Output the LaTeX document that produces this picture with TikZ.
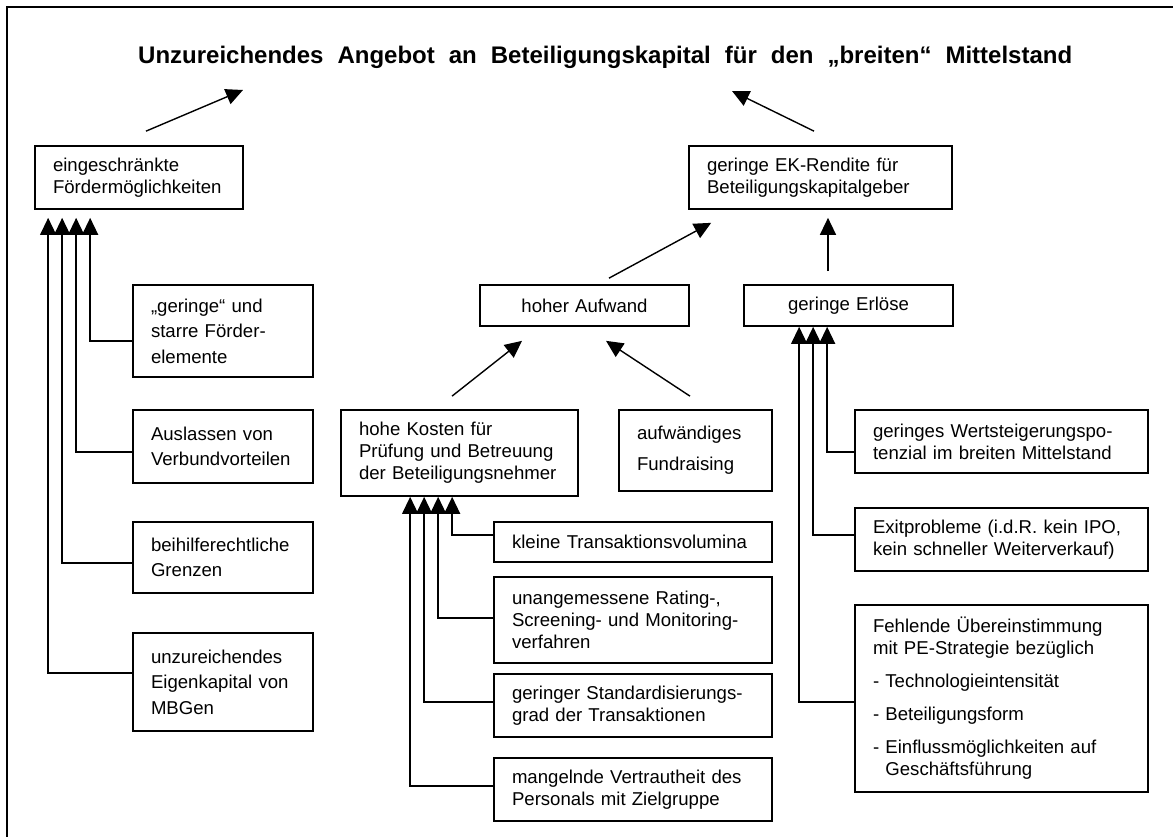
\documentclass[tikz,border=0pt]{standalone}
\usepackage{fontspec}
\setmainfont{Liberation Sans}
\usetikzlibrary{arrows.meta}
\newcommand{\boxfont}{\fontsize{18.6}{22}\selectfont\hyphenpenalty=10000\exhyphenpenalty=10000}
\newcommand{\leftfont}{\fontsize{18.6}{25.5}\selectfont\hyphenpenalty=10000\exhyphenpenalty=10000}
\begin{document}
\begin{tikzpicture}[x=1pt,y=-1pt,
  box/.style={draw, line width=1.7pt, inner xsep=18pt, inner ysep=0pt, align=left, font=\boxfont},
  lbox/.style={box, font=\leftfont, minimum width=180pt, text width=144pt},
  cbox/.style={box, align=center},
  arr/.style={line width=1.4pt, -{Triangle[length=17pt,width=16pt]}},
  frame/.style={line width=1.8pt}]
\useasboundingbox (0,0) rectangle (1173,837);
\fill[white] (0,0) rectangle (1173,837);
\draw[frame] (7,7) rectangle (1182,850);

% title
\node[anchor=base west, inner sep=0pt, font=\fontsize{24}{28}\bfseries\selectfont] (title) at (138,64)
  {\makebox[934pt][s]{Unzureichendes Angebot an Beteiligungskapital für den „breiten“ Mittelstand}};
\coordinate (t1) at (243,90);
\coordinate (t2) at (732,91);

% upper level
\node[box, minimum width=208pt, minimum height=63pt, text width=172pt] (fm) at (139,177.5)
  {eingeschränkte\\Fördermöglichkeiten};
\node[box, minimum width=263pt, minimum height=63pt, text width=227pt] (ek) at (820.5,177.5)
  {geringe EK-Rendite für\\Beteiligungskapitalgeber};

% middle level
\node[cbox, minimum width=209pt, minimum height=41pt, text width=173pt] (ha) at (584.5,305.5) {hoher Aufwand};
\node[cbox, minimum width=209pt, minimum height=41pt, text width=173pt] (el) at (848.5,305.5) {geringe Erlöse};
\node[box, minimum width=237pt, minimum height=86pt, text width=201pt] (hk) at (459.5,453)
  {hohe Kosten für\\Prüfung und Betreuung\\der Beteiligungsnehmer};
\node[box, minimum width=153pt, minimum height=81pt, text width=117pt] (fr) at (695.5,450.5)
  {aufwändiges\\[9pt]Fundraising};

% left column
\node[lbox, minimum height=92pt] (l1) at (223,331)
  {„geringe“ und\\starre Förder-\\elemente};
\node[lbox, minimum height=73pt] (l2) at (223,446.5)
  {Auslassen von\\Verbundvorteilen};
\node[lbox, minimum height=71pt] (l3) at (223,557.5)
  {beihilferechtliche\\Grenzen};
\node[lbox, minimum height=98pt] (l4) at (223,682)
  {unzureichendes\\Eigenkapital von\\MBGen};

% cost column
\node[box, minimum width=278pt, minimum height=40pt, text width=242pt] (k1) at (633,542)
  {kleine Transaktionsvolumina};
\node[box, minimum width=278pt, minimum height=86pt, text width=242pt] (k2) at (633,620)
  {unangemessene Rating-,\\Screening- und Monitoring-\\verfahren};
\node[box, minimum width=278pt, minimum height=63pt, text width=242pt] (k3) at (633,705.5)
  {geringer Standardisierungs-\\grad der Transaktionen};
\node[box, minimum width=278pt, minimum height=63pt, text width=242pt] (k4) at (633,789.5)
  {mangelnde Vertrautheit des\\Personals mit Zielgruppe};

% revenue column
\node[box, minimum width=293pt, minimum height=63pt, text width=257pt] (r1) at (1001.5,441.5)
  {geringes Wertsteigerungspo-\\tenzial im breiten Mittelstand};
\node[box, minimum width=293pt, minimum height=63pt, text width=257pt] (r2) at (1001.5,539.5)
  {Exitprobleme (i.d.R. kein IPO,\\kein schneller Weiterverkauf)};
\node[box, minimum width=293pt, minimum height=187pt, text width=257pt] (r3) at (1001.5,698.5)
  {Fehlende Übereinstimmung\\mit PE-Strategie bezüglich\\[11pt]- Technologieintensität\\[11pt]- Beteiligungsform\\[11pt]- Einflussmöglichkeiten auf\\\hphantom{- }Geschäftsführung};

% arrows to title
\draw[arr] ([xshift=7pt,yshift=14pt]fm.north) -- (t1);
\draw[arr] ([xshift=-6.5pt,yshift=14pt]ek.north) -- (t2);

% arrows to EK-Rendite
\draw[arr] ([xshift=24.5pt,yshift=6pt]ha.north) -- ([xshift=23pt,yshift=-13pt]ek.south west);
\draw[arr] ([xshift=-20.5pt,yshift=13pt]el.north) -- ([xshift=7.5pt,yshift=-8pt]ek.south);

% arrows to hoher Aufwand
\draw[arr] ([xshift=-7.5pt,yshift=13pt]hk.north) -- ([xshift=-62.5pt,yshift=-14pt]ha.south);
\draw[arr] ([xshift=-5.5pt,yshift=13pt]fr.north) -- ([xshift=21.5pt,yshift=-14pt]ha.south);

% left column connectors
\draw[arr] ([yshift=-10pt]l1.west) -| ([xshift=56pt,yshift=-8pt]fm.south west);
\draw[arr] ([yshift=-5.5pt]l2.west) -| ([xshift=42pt,yshift=-8pt]fm.south west);
\draw[arr] ([yshift=-5.5pt]l3.west) -| ([xshift=28pt,yshift=-8pt]fm.south west);
\draw[arr] ([yshift=9pt]l4.west) -| ([xshift=14pt,yshift=-8pt]fm.south west);

% cost connectors
\draw[arr] ([yshift=7pt]k1.west) -| ([xshift=112pt]hk.south west);
\draw[arr] ([yshift=2pt]k2.west) -| ([xshift=98pt]hk.south west);
\draw[arr] ([yshift=3.5pt]k3.west) -| ([xshift=84pt]hk.south west);
\draw[arr] ([yshift=3.5pt]k4.west) -| ([xshift=70pt]hk.south west);

% revenue connectors
\draw[arr] ([yshift=-10.5pt]r1.west) -| ([xshift=84pt]el.south west);
\draw[arr] ([yshift=4.5pt]r2.west) -| ([xshift=70pt]el.south west);
\draw[arr] ([yshift=-3.5pt]r3.west) -| ([xshift=56pt]el.south west);
\end{tikzpicture}
\end{document}
